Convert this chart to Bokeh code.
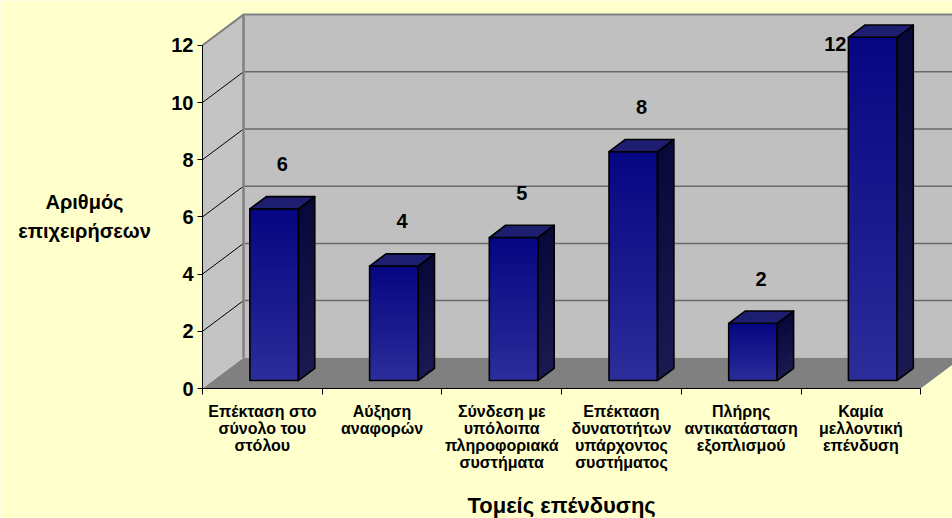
from bokeh.plotting import figure
from bokeh.models import Range1d, FixedTicker, ColumnDataSource
from bokeh.embed import file_html
from bokeh.resources import INLINE
from bokeh.core.properties import value

# ---- data -------------------------------------------------------------
categories = [
    "Επέκταση στο\nσύνολο του\nστόλου",
    "Αύξηση\nαναφορών",
    "Σύνδεση με\nυπόλοιπα\nπληροφοριακά\nσυστήματα",
    "Επέκταση\nδυνατοτήτων\nυπάρχοντος\nσυστήματος",
    "Πλήρης\nαντικατάσταση\nεξοπλισμού",
    "Καμία\nμελλοντική\nεπένδυση",
]
counts = [6, 4, 5, 8, 2, 12]
y_ticks = [0, 2, 4, 6, 8, 10, 12]
x_title = "Τομείς επένδυσης"
y_title = ["Αριθμός", "επιχειρήσεων"]

# ---- layout (pixels) and 3-D box geometry (data units) -----------------
FONT = value("Liberation Sans")
W, H = 952, 518
ORIGIN_X, ORIGIN_Y = 202, 388   # where the value axis meets the category axis
N = len(categories)
PX_CAT = 119.7          # pixels per category
PX_VAL = 28.6           # pixels per value unit
X0 = 0.5                # left edge of first category
DX = 41 / PX_CAT        # depth offset to the back wall (x)
DY = 30.7 / PX_VAL      # depth offset to the back wall (y)
WALL_TOP = y_ticks[-1]
BAR_OFF = 0.307         # bar start inside its category (front plane)
BAR_W = 0.405
Z0, Z1 = 0.26, 0.66     # bar depth (fraction of the floor depth)
LABEL_GAP = 1.35


def sx(px):
    return X0 + (px - ORIGIN_X) / PX_CAT


def sy(py):
    return (ORIGIN_Y - py) / PX_VAL


BG = "#FFFFCC"
p = figure(width=W, height=H, output_backend="svg", toolbar_location=None,
           x_range=Range1d(sx(0), sx(W)), y_range=Range1d(sy(H), sy(0)),
           min_border=0)
p.background_fill_color = BG
p.border_fill_color = BG
p.outline_line_color = None
p.grid.visible = False

xl, xr = X0, X0 + N

# walls and floor
p.patch([xl, xl + DX, xl + DX, xl], [0, DY, WALL_TOP + DY, WALL_TOP],
        fill_color="#C4C4C4", line_color=None)
p.patch([xl + DX, xr + DX, xr + DX, xl + DX], [DY, DY, WALL_TOP + DY, WALL_TOP + DY],
        fill_color="#C0C0C0", line_color=None)
p.patch([xl, xr, xr + DX, xl + DX], [0, 0, DY, DY],
        fill_color="#808080", line_color=None)

# gridlines on back wall, diagonals on side wall
inner = y_ticks[1:-1]
p.segment(x0=[xl + DX] * len(inner), y0=[t + DY for t in inner],
          x1=[xr + DX] * len(inner), y1=[t + DY for t in inner],
          line_color="#6A6A6A", line_width=1.5)
p.segment(x0=[xl] * len(inner), y0=inner, x1=[xl + DX] * len(inner),
          y1=[t + DY for t in inner], line_color="black", line_width=1)

# wall edges
p.line([xl, xl + DX, xr + DX], [WALL_TOP, WALL_TOP + DY, WALL_TOP + DY],
       line_color="#808080", line_width=2)
p.line([xl + DX, xl + DX], [DY, WALL_TOP + DY], line_color="#808080", line_width=2.5)


def mix(c1, c2, f):
    return "#%02x%02x%02x" % tuple(int(round(a + (b - a) * f)) for a, b in zip(c1, c2))


FRONT_TOP, FRONT_BOT = (6, 6, 130), (44, 44, 154)
SIDE_TOP, SIDE_BOT = (8, 8, 58), (26, 26, 82)
TOP_FACE = "#1E1E70"
STRIPS = 40

# each shade band runs from its own bottom up to the bar top; later bands
# cover the upper part, so no seams show between the bands
fq = dict(left=[], right=[], bottom=[], top=[], color=[])
sp = dict(xs=[], ys=[], color=[])
outlines = dict(xs=[], ys=[], fill=[])
lab_in = dict(x=[], y=[], t=[])
lab_side = dict(x=[], y=[], t=[])
wall_top_edge = WALL_TOP + DY

for i, v in enumerate(counts):
    x0 = X0 + i + BAR_OFF
    x1 = x0 + BAR_W
    fx0, fx1 = x0 + Z0 * DX, x1 + Z0 * DX
    bx1 = x1 + Z1 * DX
    yb0, yb1 = Z0 * DY, Z1 * DY
    for k in range(STRIPS):
        f_lo = k / STRIPS
        c = 1 - (k + 0.5) / STRIPS
        fq["left"].append(fx0)
        fq["right"].append(fx1)
        fq["bottom"].append(yb0 + v * f_lo)
        fq["top"].append(yb0 + v)
        fq["color"].append(mix(FRONT_TOP, FRONT_BOT, c))
        sp["xs"].append([fx1, bx1, bx1, fx1])
        sp["ys"].append([yb0 + v * f_lo, yb1 + v * f_lo, yb1 + v, yb0 + v])
        sp["color"].append(mix(SIDE_TOP, SIDE_BOT, c))
    # outlines of the three visible faces
    outlines["xs"] += [[fx0, fx1, fx1, fx0], [fx1, bx1, bx1, fx1],
                       [fx0, fx1, bx1, x0 + Z1 * DX]]
    outlines["ys"] += [[yb0, yb0, v + yb0, v + yb0], [yb0, yb1, v + yb1, v + yb0],
                       [v + yb0, v + yb0, v + yb1, v + yb1]]
    outlines["fill"] += [None, None, TOP_FACE]

    # value label above the bar, or beside it when it would leave the walls
    ly = v + 0.5 * (Z0 + Z1) * DY + LABEL_GAP
    if ly + 0.4 > wall_top_edge:
        lab_side["x"].append(fx0 - 2 / PX_CAT)
        lab_side["y"].append(v + yb0)
        lab_side["t"].append(str(v))
    else:
        lab_in["x"].append(0.5 * (fx0 + fx1) + 0.5 * (Z1 - Z0) * DX)
        lab_in["y"].append(ly)
        lab_in["t"].append(str(v))

p.quad(source=ColumnDataSource(fq), left="left", right="right", bottom="bottom",
       top="top", fill_color="color", line_color=None)
p.patches(source=ColumnDataSource(sp), xs="xs", ys="ys", fill_color="color", line_color=None)
p.patches(source=ColumnDataSource(outlines), xs="xs", ys="ys", fill_color="fill",
          line_color="black", line_width=1.6, line_join="round")

label_style = dict(text_font=FONT, text_font_style="bold", text_color="black")
p.text(source=ColumnDataSource(lab_in), x="x", y="y", text="t", text_font_size="20px",
       text_align="center", text_baseline="middle", **label_style)
p.text(source=ColumnDataSource(lab_side), x="x", y="y", text="t", text_font_size="20px",
       text_align="right", text_baseline="top", **label_style)

# axis titles
p.text(x=[xl + N / 2], y=[sy(505)], text=[x_title], text_font_size="22px",
       text_align="center", text_baseline="middle", **label_style)
p.text(x=[sx(84)] * 2, y=[sy(201), sy(230)], text=y_title, text_font_size="20px",
       text_align="center", text_baseline="middle", **label_style)

# ---- axes ---------------------------------------------------------------
ya = p.yaxis[0]
ya.fixed_location = X0
ya.ticker = FixedTicker(ticks=y_ticks, minor_ticks=[])
ya.bounds = (0, WALL_TOP)
ya.axis_line_color = "black"
ya.major_tick_out = 5
ya.major_tick_in = 0
ya.major_tick_line_color = "black"
ya.major_label_text_font = "Liberation Sans"
ya.major_label_text_font_style = "bold"
ya.major_label_text_font_size = "20px"
ya.major_label_text_color = "black"
ya.major_label_standoff = 4

xa = p.xaxis[0]
xa.fixed_location = 0
centers = [X0 + i + 0.5 for i in range(N)]
xa.ticker = FixedTicker(ticks=centers, minor_ticks=[X0 + i for i in range(N + 1)])
xa.major_label_overrides = {c: lab for c, lab in zip(centers, categories)}
xa.bounds = (xl, xr)
xa.axis_line_color = "black"
xa.major_tick_out = 0
xa.major_tick_in = 0
xa.minor_tick_out = 6
xa.minor_tick_in = 0
xa.minor_tick_line_color = "black"
xa.major_label_text_font = "Liberation Sans"
xa.major_label_text_font_style = "bold"
xa.major_label_text_font_size = "16px"
xa.major_label_text_line_height = 1.0
xa.major_label_text_color = "black"
xa.major_label_standoff = 8

open("out.html", "w").write(file_html(p, INLINE))
